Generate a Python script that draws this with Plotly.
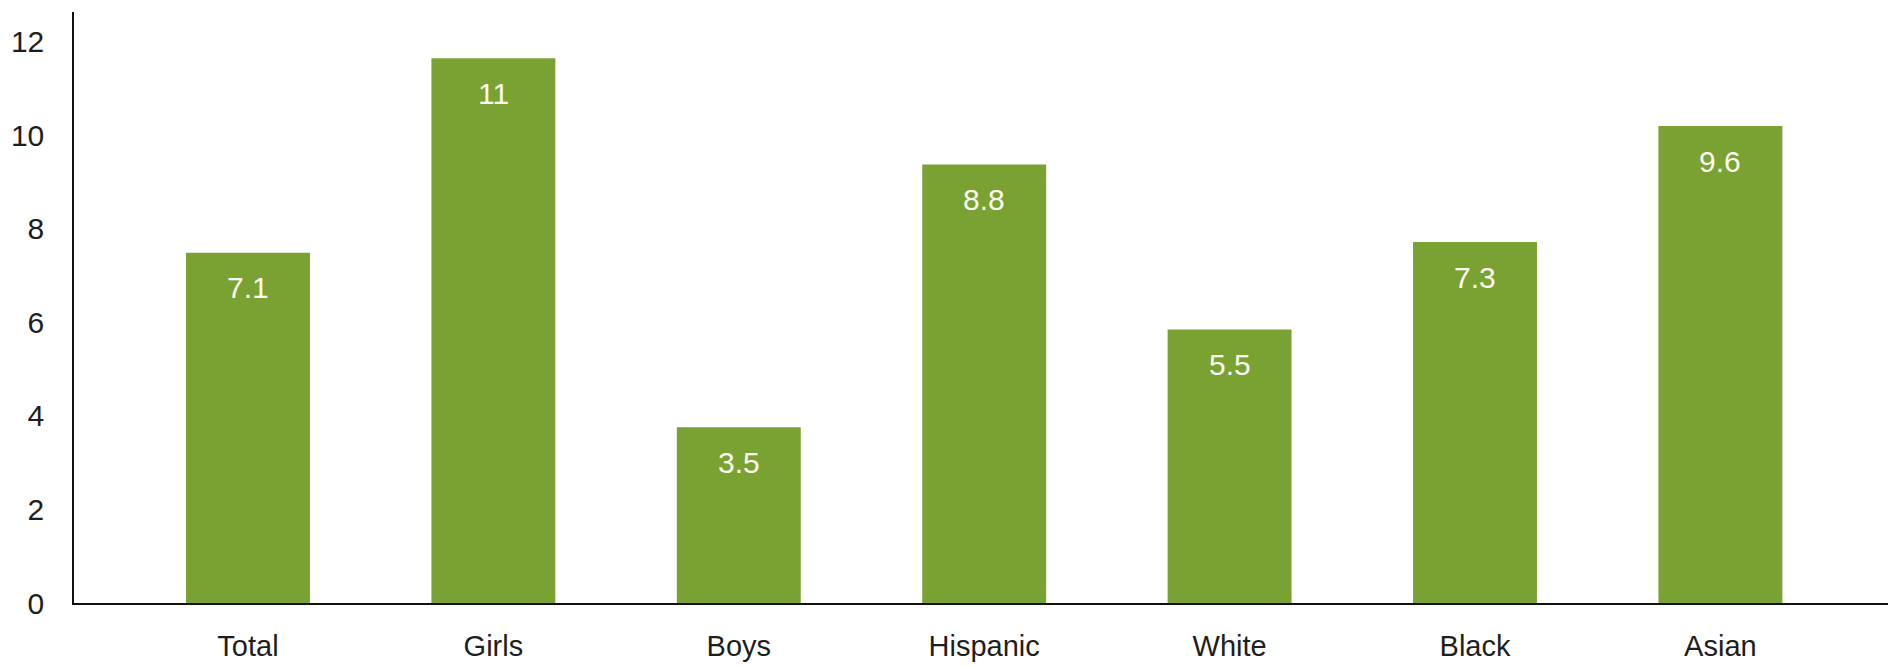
import plotly.graph_objects as go

categories = ["Total", "Girls", "Boys", "Hispanic", "White", "Black", "Asian"]
bar_heights = [7.49, 11.65, 3.76, 9.38, 5.85, 7.72, 10.20]
value_labels = ["7.1", "11", "3.5", "8.8", "5.5", "7.3", "9.6"]
y_ticks = [0, 2, 4, 6, 8, 10, 12]

BAR_COLOR = "#79A232"
TEXT_COLOR = "#1e1e1e"
FONT = "Liberation Sans, Arial, Helvetica, sans-serif"

fig = go.Figure()
fig.add_trace(go.Bar(
    x=categories,
    y=bar_heights,
    marker=dict(color=BAR_COLOR, line=dict(width=0)),
    width=0.505,
    hoverinfo="skip",
))

for c, h, t in zip(categories, bar_heights, value_labels):
    fig.add_annotation(
        x=c, y=h, text=t, showarrow=False,
        xanchor="center", yanchor="middle", yshift=-35,
        font=dict(family=FONT, size=30, color="#FAFAF0"),
    )

fig.update_layout(
    width=1888, height=666,
    margin=dict(l=74, r=0, t=12, b=63, pad=0, autoexpand=False),
    paper_bgcolor="white", plot_bgcolor="white",
    showlegend=False,
    font=dict(family=FONT, size=30, color=TEXT_COLOR),
    xaxis=dict(
        range=[-0.709, 6.683],
        automargin=False,
        showline=True, linecolor="#111111", linewidth=2,
        showgrid=False, zeroline=False,
        ticks="", ticklabelstandoff=16,
        tickfont=dict(family=FONT, size=29, color=TEXT_COLOR),
    ),
    yaxis=dict(
        range=[0, 12.64],
        tickvals=y_ticks,
        automargin=False,
        showline=True, linecolor="#111111", linewidth=1.5,
        showgrid=False, zeroline=False,
        ticks="", ticklabelstandoff=22,
        tickfont=dict(family=FONT, size=30, color=TEXT_COLOR),
    ),
)

fig.write_html(
    "out.html",
    config={"displayModeBar": False},
    post_script="document.body.style.margin='0';document.body.style.overflow='hidden';",
)
